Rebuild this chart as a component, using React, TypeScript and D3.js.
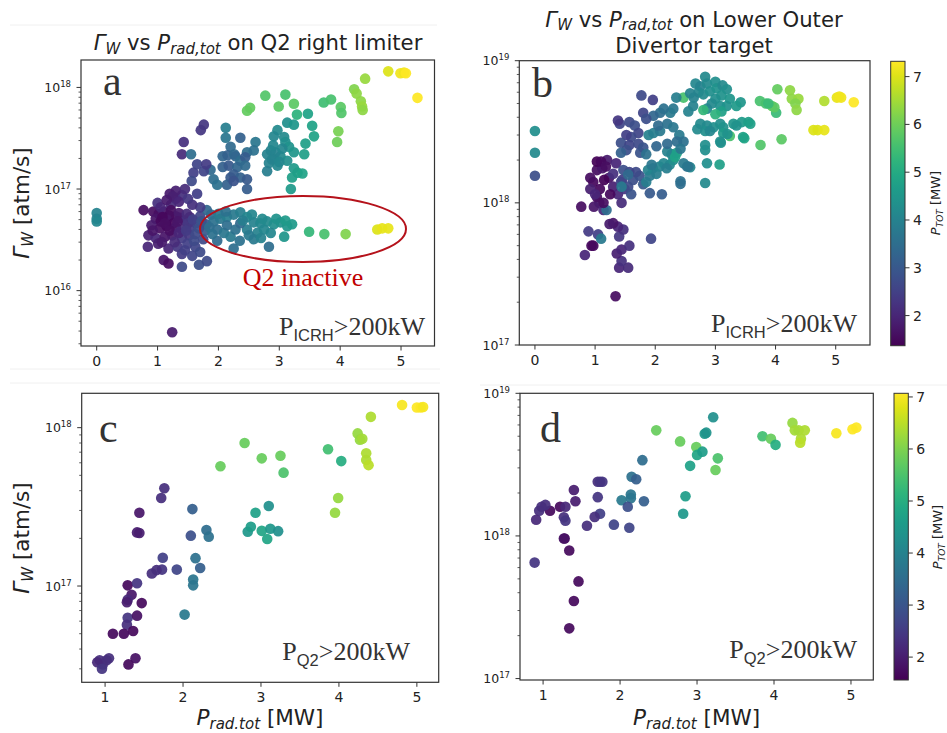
import React from "react";
import * as d3 from "d3";

// ---------------- DATA ----------------
// Panel a: Gamma_W on Q2 right limiter, P_ICRH > 200 kW
const aX = [4.79,4.99,5.05,5.08,5.27,4.41,4.23,4.27,4.34,4.36,4.37,4.01,4.02,3.97,3.95,3.73,3.85,2.77,3.10,3.24,2.99,2.47,2.52,3.29,3.47,3.54,3.57,3.43,3.41,3.13,3.24,2.97,2.91,3.08,3.10,3.16,3.24,2.86,2.80,2.91,3.02,3.13,2.83,2.80,2.97,3.24,3.30,3.38,3.21,3.19,2.61,2.58,2.47,2.12,2.12,2.36,2.20,2.07,2.15,2.26,2.28,2.36,2.44,2.07,2.17,2.31,2.44,2.25,2.36,2.47,2.47,2.20,2.14,2.25,1.92,1.98,1.87,1.76,1.59,1.56,1.76,1.71,1.43,1.40,1.55,1.65,1.80,
0.77,0.93,1.02,1.10,1.19,1.30,0.97,1.05,1.15,1.26,1.37,1.45,1.53,0.90,1.04,1.15,1.30,1.40,1.55,1.63,0.85,0.97,1.12,1.24,1.40,1.52,1.62,0.84,1.01,1.18,1.33,1.49,1.62,1.75,1.10,1.18,1.40,1.68,1.81,1.57,1.40,1.78,1.80,1.70,1.81,1.70,1.57,1.30,1.22,1.40,1.30,1.45,1.20,1.00,1.05,1.88,1.65,1.24,0,0,0,
1.92,2.03,2.14,2.25,2.36,2.47,2.58,2.69,2.80,2.91,3.02,3.13,3.21,1.98,2.09,2.20,2.28,2.47,2.64,2.75,2.86,3.08,2.58,2.25,2.83,3.49,3.74,4.09,4.61,4.69,4.79,2.36,2.14,1.98,2.94,3.05,2.88,3.00,2.90,
1.08,1.22,1.35,1.48,1.12,1.33,1.50,1.58,0.92,1.20,1.35,1.47,1.68,1.72,1.60,1.28,1.07,1.45,1.70,1.25,1.35,1.15,1.50,1.85,1.90,2.00,2.12,2.40,2.55,2.72,2.95,3.10,2.50,2.35,2.70];
const aY = [1.44e18,1.38e18,1.40e18,1.38e18,7.9e17,1.22e18,9.6e17,8.7e17,7.3e17,6.5e17,6.0e17,6.4e17,5.6e17,3.7e17,2.9e17,7.1e17,7.6e17,8.3e17,8.5e17,6.9e17,6.5e17,5.9e17,6.3e17,5.4e17,5.5e17,4.2e17,3.3e17,2.8e17,2.2e17,4.5e17,4.3e17,3.8e17,3.3e17,3.25e17,2.9e17,2.6e17,2.3e17,2.4e17,2.2e17,2.0e17,2.1e17,1.9e17,1.8e17,1.5e17,1.7e17,1.6e17,1.45e17,1.42e17,1.3e17,1.0e17,2.9e17,2.4e17,2.3e17,4.0e17,3.2e17,3.2e17,2.6e17,2.1e17,2.15e17,2.2e17,2.1e17,1.9e17,2.05e17,1.65e17,1.7e17,1.65e17,1.7e17,1.4e17,1.3e17,1.25e17,1.0e17,1.3e17,1.1e17,1.2e17,1.25e17,1.1e17,1.55e17,1.5e17,1.45e17,1.2e17,4.3e17,3.8e17,2.9e17,2.2e17,2.2e17,1.75e17,1.75e17,
6.2e16,6.0e16,5.7e16,6.0e16,5.5e16,5.4e16,5.1e16,4.8e16,5.0e16,4.6e16,5.2e16,4.9e16,5.3e16,4.4e16,4.1e16,4.3e16,4.2e16,4.0e16,4.2e16,4.6e16,3.5e16,3.3e16,3.4e16,3.5e16,3.3e16,3.5e16,3.6e16,2.7e16,2.9e16,2.6e16,2.7e16,2.9e16,2.7e16,3.2e16,2.0e16,1.85e16,1.72e16,1.8e16,1.95e16,2.2e16,2.3e16,3.9e16,4.5e16,5.4e16,6.2e16,6.6e16,7.0e16,8.0e16,7.0e16,8.7e16,9.6e16,1.0e17,9.0e16,7.3e16,6.6e16,5.6e16,9.0e16,3.9e15,5.8e16,5.1e16,4.8e16,
4.8e16,5.1e16,5.3e16,5.6e16,5.9e16,5.3e16,4.7e16,4.6e16,4.8e16,4.5e16,4.7e16,4.3e16,4.5e16,4.0e16,3.7e16,3.4e16,4.0e16,4.0e16,3.7e16,4.0e16,3.7e16,3.4e16,3.2e16,2.6e16,2.7e16,3.8e16,3.6e16,3.6e16,4.0e16,4.1e16,4.1e16,4.6e16,4.4e16,3.1e16,2.3e17,2.5e17,1.95e17,1.85e17,2.7e17,
5.3e16,6.2e16,5.8e16,5.7e16,4.6e16,4.8e16,4.6e16,5.0e16,3.9e16,3.9e16,3.7e16,3.9e16,4.1e16,4.8e16,3.1e16,3.0e16,3.0e16,2.5e16,2.4e16,8.5e16,7.5e16,7.8e16,8.0e16,4.2e16,3.6e16,5.7e16,6.0e16,4.9e16,5.6e16,5.1e16,5.1e16,4.9e16,3.5e16,3.1e16,3.3e16];
const aP = [7.0,7.2,7.2,7.3,7.3,6.4,6.2,6.3,6.3,6.4,6.3,5.8,5.7,6.1,6.0,5.5,5.6,5.7,5.6,5.8,5.8,5.9,5.9,5.2,4.8,4.8,4.8,4.7,4.7,4.3,4.5,4.2,4.1,4.2,4.3,4.4,4.5,4.0,4.0,4.1,4.2,4.3,4.0,3.9,4.1,4.6,4.7,4.8,4.7,4.6,3.7,3.6,3.5,3.9,3.7,3.2,3.4,3.3,3.2,3.4,3.3,3.5,3.1,3.2,3.0,3.3,3.4,3.1,3.2,3.0,3.1,3.0,3.2,2.9,3.5,3.6,3.4,2.6,2.5,2.7,2.3,2.3,2.2,2.1,3.5,2.6,2.4,
1.6,1.6,1.6,1.7,1.5,1.6,1.7,1.5,1.7,1.5,1.9,2.2,2.0,1.8,1.6,1.5,1.7,2.1,2.4,2.6,1.9,2.0,1.7,1.8,2.4,2.3,2.7,2.0,1.9,2.0,2.3,2.5,2.6,2.7,1.7,1.6,2.7,2.8,2.7,2.6,2.4,3.0,2.9,2.6,3.3,2.4,2.2,2.0,2.1,2.2,1.9,2.1,1.8,2.2,2.0,3.4,2.5,1.8,4.0,4.0,4.1,
3.6,3.7,3.9,3.8,3.9,4.1,4.0,4.1,4.2,4.3,4.4,4.5,4.6,3.5,3.7,3.8,3.6,3.9,4.0,4.1,4.1,4.5,3.8,3.5,3.5,5.3,5.6,6.2,7.0,7.1,7.1,3.4,3.5,3.4,4.0,4.1,4.0,4.1,4.1,
1.5,1.6,1.8,2.1,1.6,1.7,2.3,2.5,1.7,1.6,2.0,2.4,2.8,2.9,2.7,2.1,1.8,2.5,2.7,1.9,2.0,1.8,2.3,3.5,3.6,3.8,3.6,3.9,4.1,4.2,4.4,4.6,3.8,3.6,4.0];

// Panel b: Gamma_W on lower outer divertor target, P_ICRH > 200 kW
const bX = [5.30,5.02,5.06,5.09,4.81,4.63,4.70,4.81,4.24,4.27,4.38,4.33,4.35,4.03,4.01,3.94,3.98,3.74,3.84,4.10,3.75,3.48,3.24,3.07,2.83,2.86,2.83,2.83,3.09,
2.83,2.67,2.75,2.86,2.72,2.64,2.80,2.91,3.00,3.02,3.12,3.19,3.10,3.24,3.00,2.94,2.86,3.08,3.19,3.42,3.35,3.10,2.80,3.00,2.63,3.88,2.47,2.35,2.58,2.55,2.30,
2.75,2.86,2.97,2.83,2.91,3.08,3.13,3.30,3.44,3.55,3.58,3.35,3.13,3.20,3.08,3.46,2.58,2.70,
1.34,1.40,1.55,1.44,1.36,1.44,1.57,1.40,1.47,1.38,1.30,1.24,0.94,0.97,0.83,0.89,1.05,1.10,1.93,0.77,
0.98,1.07,1.14,1.19,1.03,1.08,0.97,0.92,1.03,1.12,1.20,1.03,1.10,1.18,1.23,1.30,1.38,1.44,1.30,1.45,1.49,0.92,1.15,1.25,1.35,1.14,1.00,
1.43,1.55,1.63,1.74,1.68,1.57,1.47,1.44,1.60,1.80,1.85,1.91,1.88,1.96,2.02,2.07,1.94,1.91,2.11,2.42,2.42,2.53,2.24,2.30,2.27,2.20,2.14,2.19,2.33,2.36,2.47,
1.41,1.57,1.66,1.72,1.60,1.52,1.43,1.57,1.72,1.80,1.52,1.43,1.75,1.85,1.89,1.97,2.08,2.08,2.25,1.80,2.14,1.97,1.77,1.96,1.85,1.38,2.05,2.20,2.30,2.40,2.47,2.36,2.20,2.02,2.42,2.55,0,0,0,1.55];
const bY = [5.1e18,5.5e18,5.6e18,5.5e18,5.2e18,3.25e18,3.25e18,3.25e18,6.2e18,5.4e18,5.4e18,5.0e18,4.5e18,6.3e18,4.3e18,4.8e18,4.7e18,5.2e18,5.0e18,2.8e18,2.55e18,2.85e18,2.95e18,1.86e18,1.38e18,1.9e18,2.55e18,2.35e18,2.65e18,
7.7e18,6.9e18,6.6e18,6.9e18,6.0e18,5.5e18,5.8e18,6.1e18,7.1e18,6.4e18,6.7e18,6.3e18,5.7e18,5.4e18,5.4e18,5.0e18,4.6e18,4.8e18,4.8e18,5.1e18,4.8e18,4.4e18,4.5e18,4.2e18,4.8e18,5.0e18,5.5e18,5.5e18,5.9e18,4.4e18,4.6e18,
3.6e18,3.5e18,3.4e18,3.2e18,3.2e18,3.6e18,3.4e18,3.6e18,3.7e18,3.7e18,3.6e18,3.5e18,3.1e18,3.05e18,2.7e18,2.9e18,1.78e18,3.3e18,
2.2e17,3.5e17,3.5e17,3.9e17,4.4e17,4.7e17,5.0e17,5.8e17,6.5e17,6.8e17,7.2e17,7.1e17,5.0e17,5.0e17,4.3e17,6.3e17,6.0e17,5.6e17,5.6e17,9.4e17,
9.4e17,1.0e18,8.9e17,8.9e17,1.1e18,1.25e18,1.4e18,1.25e18,1.7e18,1.75e18,2.0e18,1.95e18,1.95e18,1.8e18,1.5e18,1.3e18,1.15e18,1.0e18,1.6e18,1.45e18,1.25e18,1.5e18,1.45e18,1.15e18,1.9e18,1.0e18,1.15e18,
1.4e18,1.3e18,1.45e18,1.55e18,1.65e18,1.65e18,1.7e18,1.3e18,1.15e18,1.35e18,1.4e18,1.55e18,1.7e18,1.75e18,1.6e18,1.8e18,1.85e18,1.17e18,1.15e18,1.42e18,1.36e18,1.8e18,1.85e18,2.0e18,2.2e18,2.3e18,1.9e18,1.75e18,2.1e18,2.25e18,1.9e18,
3.6e18,3.7e18,3.5e18,3.1e18,2.9e18,3.0e18,2.65e18,2.55e18,2.6e18,2.45e18,2.35e18,2.25e18,2.25e18,2.2e18,3.0e18,3.1e18,3.2e18,4.3e18,4.3e18,4.3e18,4.6e18,4.1e18,5.7e18,5.3e18,3.9e18,3.8e18,3.5e18,3.6e18,3.4e18,3.0e18,2.7e18,2.7e18,2.6e18,2.5e18,2.4e18,1.8e18,3.2e18,2.25e18,1.55e18,1.58e18];
const bP = [7.3,7.1,7.2,7.2,6.6,7.0,7.0,7.1,6.3,6.3,6.4,6.2,6.3,5.9,5.4,5.9,5.8,5.6,5.6,5.8,5.7,4.9,5.6,4.7,4.2,4.3,4.3,4.3,4.4,
4.2,4.1,4.0,4.2,4.1,4.0,4.2,4.3,4.3,4.4,4.2,4.3,4.4,4.5,4.3,4.2,4.1,4.3,4.4,4.5,4.6,4.7,5.3,5.2,4.0,5.4,5.6,3.9,4.0,4.0,3.7,
4.2,4.2,4.3,4.3,4.1,4.3,4.4,4.5,4.6,4.7,4.7,4.4,4.6,4.4,4.3,4.8,4.1,4.2,
1.6,2.0,2.1,2.2,1.9,2.0,2.2,2.3,2.2,2.0,1.7,1.8,1.5,1.5,2.0,2.4,2.5,3.8,2.6,1.6,
1.7,1.8,2.0,3.5,1.6,1.5,1.5,1.9,1.6,1.7,1.8,1.4,1.5,1.6,1.7,1.9,2.0,2.1,2.2,2.4,2.3,1.6,1.4,1.5,2.0,1.6,2.0,
2.6,2.7,2.8,2.9,2.7,2.6,2.8,3.8,2.9,3.0,3.9,3.8,4.0,4.1,3.9,4.0,3.7,3.0,3.1,3.6,3.5,3.5,4.1,4.3,4.2,4.0,4.1,3.9,4.8,4.7,3.8,
2.6,2.7,2.8,2.6,2.7,2.5,2.8,2.6,2.7,2.9,2.8,3.2,2.9,3.6,4.0,3.9,3.8,3.5,3.8,2.6,3.6,3.3,2.7,2.5,2.8,2.3,3.4,3.6,3.7,3.8,3.6,3.5,3.4,3.3,3.7,3.7,4.3,4.2,2.8,3.4];

// Panel c: Q2 right limiter, P_Q2 > 200 kW
const cX = [4.81,5.00,5.05,5.08,4.41,4.24,4.27,4.30,2.79,3.86,4.35,3.01,3.25,4.03,4.35,4.38,2.48,3.29,1.76,1.72,3.99,1.44,3.95,2.12,2.93,3.10,1.41,1.44,2.10,2.30,2.33,2.83,2.87,3.01,3.12,3.22,3.08,1.74,1.73,1.66,1.60,1.92,2.16,2.22,2.13,2.13,1.29,1.41,1.34,1.29,1.28,1.47,2.02,1.29,1.28,1.41,1.10,1.24,1.36,0.93,0.97,1.02,0.90,0.96,1.05,1.39,1.30];
const cY = [1.39e18,1.34e18,1.34e18,1.35e18,1.17e18,9.2e17,8.4e17,8.5e17,8.0e17,7.3e17,6.9e17,6.4e17,6.65e17,6.15e17,6.25e17,5.8e17,5.7e17,5.2e17,4.14e17,3.6e17,3.6e17,2.9e17,2.9e17,3.06e17,2.9e17,3.2e17,2.18e17,2.16e17,2.08e17,2.26e17,2.05e17,2.2e17,2.37e17,2.23e17,2.3e17,2.22e17,1.98e17,1.51e17,1.27e17,1.26e17,1.2e17,1.27e17,1.5e17,1.3e17,1.1e17,1.01e17,1.01e17,1.04e17,8.8e16,8.2e16,7.9e16,7.8e16,6.6e16,6.3e16,5.7e16,6.5e16,5.0e16,5.0e16,5.2e16,3.4e16,3.2e16,3.4e16,3.3e16,3.0e16,3.5e16,3.5e16,3.2e16];
const cP = [7.0,7.1,7.1,7.0,6.4,6.2,6.2,6.3,5.8,5.4,6.4,5.8,5.8,5.0,6.4,6.5,5.8,5.5,2.3,2.3,6.2,1.9,6.2,3.2,4.7,4.3,2.0,2.0,2.9,3.5,3.6,4.5,4.6,4.8,4.5,4.3,4.8,2.6,2.4,2.3,2.3,2.7,3.6,3.2,3.7,3.7,1.7,2.4,1.9,2.2,2.0,1.7,3.8,2.4,2.3,1.8,1.7,1.7,1.7,2.3,2.3,2.3,2.2,2.4,2.3,1.8,1.7];

// Panel d: lower outer divertor target, P_Q2 > 200 kW
const dX = [4.81,5.02,5.07,4.24,4.27,4.32,4.40,4.35,4.34,3.85,3.96,4.02,3.21,3.10,3.12,2.47,2.78,2.99,3.00,3.07,3.27,2.91,3.24,2.29,2.15,2.21,1.71,1.74,1.77,1.40,2.02,2.14,2.14,2.31,2.85,2.10,2.12,1.92,2.82,1.71,1.42,1.74,1.67,1.57,1.22,1.29,1.09,0.98,1.03,0.95,0.91,1.27,1.29,1.28,1.27,1.34,0.89,1.46,1.40,1.34];
const dY = [5.25e18,5.6e18,5.75e18,6.2e18,5.5e18,5.5e18,5.5e18,4.8e18,4.5e18,5.0e18,4.8e18,4.35e18,6.8e18,5.2e18,5.3e18,5.5e18,4.6e18,4.2e18,3.7e18,3.9e18,3.5e18,3.1e18,2.9e18,3.4e18,2.6e18,2.5e18,2.4e18,2.4e18,2.4e18,2.1e18,1.78e18,1.95e18,1.84e18,1.75e18,1.9e18,1.6e18,1.14e18,1.2e18,1.43e18,1.87e18,1.75e18,1.43e18,1.36e18,1.18e18,1.6e18,1.6e18,1.5e18,1.6e18,1.65e18,1.5e18,1.3e18,1.35e18,1.28e18,9.6e17,9.6e17,7.9e17,6.5e17,4.8e17,3.5e17,2.25e17];
const dP = [7.0,7.1,7.1,6.2,6.3,6.3,6.4,6.4,6.5,5.4,5.8,5.0,4.3,4.5,4.4,5.8,5.8,5.8,4.8,4.6,5.5,4.7,5.8,3.5,3.6,3.2,2.3,2.4,2.4,2.0,3.8,3.7,3.7,3.2,4.6,2.9,2.7,2.7,4.5,2.4,2.0,2.6,2.3,2.3,1.7,2.2,1.7,2.3,2.3,2.3,2.2,2.3,2.4,1.7,1.8,1.7,2.4,1.7,1.7,1.7];

// ticks
const xTicksTop = [0, 1, 2, 3, 4, 5];
const xTicksBottom = [1, 2, 3, 4, 5];
const yExpA = [16, 17, 18];
const yExpB = [17, 18, 19];
const yExpC = [17, 18];
const yExpD = [17, 18, 19];
const cbTicks = [2, 3, 4, 5, 6, 7];

// ---------------- COMPONENTS ----------------
const SANS = "'DejaVu Sans', sans-serif";
const SERIF = "'Liberation Serif', 'Times New Roman', serif";
const ARIAL = "'Liberation Sans', Arial, sans-serif";
const AX = "#333";

type Box = { l: number; t: number; r: number; b: number };

function Panel(props: {
  id: string; box: Box; xDomain: [number, number]; yDomain: [number, number];
  xTicks: number[]; yExps: number[]; xs: number[]; ys: number[]; ps: number[];
  cDomain: [number, number];
}) {
  const { id, box, xDomain, yDomain, xTicks, yExps, xs, ys, ps, cDomain } = props;
  const { l, t, r, b } = box;
  const x = d3.scaleLinear().domain(xDomain).range([l, r]);
  const y = d3.scaleLog().domain(yDomain).range([b, t]);
  const color = d3.scaleSequential(d3.interpolateViridis).domain(cDomain);
  const minor: number[] = [];
  const e0 = Math.floor(Math.log10(yDomain[0]));
  const e1 = Math.ceil(Math.log10(yDomain[1]));
  for (let e = e0; e <= e1; e++) {
    for (let m = 2; m <= 9; m++) {
      const v = m * Math.pow(10, e);
      if (v >= yDomain[0] && v <= yDomain[1]) minor.push(v);
    }
  }
  return (
    <g>
      <defs>
        <clipPath id={id}>
          <rect x={l} y={t} width={r - l} height={b - t} />
        </clipPath>
      </defs>
      <g clipPath={`url(#${id})`}>
        {xs.map((xv, i) => (
          <circle key={i} cx={x(xv)} cy={y(ys[i])} r={5.3} fill={color(ps[i])} fillOpacity={0.93} />
        ))}
      </g>
      <rect x={l} y={t} width={r - l} height={b - t} fill="none" stroke={AX} strokeWidth={1.2} />
      {xTicks.map((v) => (
        <g key={"x" + v}>
          <line x1={x(v)} x2={x(v)} y1={b} y2={b + 4.5} stroke={AX} />
          <text x={x(v)} y={b + 19.5} textAnchor="middle" fontSize={14} fill="#222">{v}</text>
        </g>
      ))}
      {minor.map((v, i) => (
        <line key={"m" + i} x1={l - 2.5} x2={l} y1={y(v)} y2={y(v)} stroke={AX} strokeWidth={0.8} />
      ))}
      {yExps.map((e) => {
        const v = Math.pow(10, e);
        return (
          <g key={"y" + e}>
            <line x1={l - 4.5} x2={l} y1={y(v)} y2={y(v)} stroke={AX} />
            <text x={l - 10} y={y(v) + 4.5} textAnchor="end" fontSize={12.5} fill="#222">
              10<tspan dy={-5} fontSize={8.5}>{e}</tspan>
            </text>
          </g>
        );
      })}
    </g>
  );
}

function Colorbar(props: { id: string; box: Box; domain: [number, number]; ticks: number[] }) {
  const { id, box, domain, ticks } = props;
  const { l, t, r, b } = box;
  const s = d3.scaleLinear().domain(domain).range([b, t]);
  const stops = d3.range(0, 1.0001, 0.05);
  return (
    <g>
      <defs>
        <linearGradient id={id} x1="0" y1="1" x2="0" y2="0">
          {stops.map((f) => (
            <stop key={f} offset={f} stopColor={d3.interpolateViridis(f)} />
          ))}
        </linearGradient>
      </defs>
      <rect x={l} y={t} width={r - l} height={b - t} fill={`url(#${id})`} stroke={AX} strokeWidth={1} />
      {ticks.map((v) => (
        <g key={v}>
          <line x1={r} x2={r + 4.5} y1={s(v)} y2={s(v)} stroke={AX} />
          <text x={r + 8} y={s(v) + 5} fontSize={14} fill="#222">{v}</text>
        </g>
      ))}
    </g>
  );
}

function CbLabel({ x, y }: { x: number; y: number }) {
  return (
    <text transform={`translate(${x},${y}) rotate(-90)`} textAnchor="middle" fontSize={13} fill="#222" style={{ whiteSpace: "pre" }}>
      <tspan fontStyle="italic">P</tspan>
      <tspan fontStyle="italic" fontSize={9} dy={3}>TOT</tspan>
      <tspan dy={-3}>{" [MW]"}</tspan>
    </text>
  );
}

function YLabel({ x, y }: { x: number; y: number }) {
  return (
    <text transform={`translate(${x},${y}) rotate(-90)`} textAnchor="middle" fontSize={21.5} fill="#222" style={{ whiteSpace: "pre" }}>
      <tspan fontStyle="italic">Γ</tspan>
      <tspan fontStyle="italic" fontSize={15} dy={4}>W</tspan>
      <tspan dy={-4}>{" [atm/s]"}</tspan>
    </text>
  );
}

function XLabel({ x, y }: { x: number; y: number }) {
  return (
    <text x={x} y={y} textAnchor="middle" fontSize={21.5} fill="#222" style={{ whiteSpace: "pre" }}>
      <tspan fontStyle="italic">P</tspan>
      <tspan fontStyle="italic" fontSize={15} dy={4}>rad.tot</tspan>
      <tspan dy={-4}>{" [MW]"}</tspan>
    </text>
  );
}

function TitleHead() {
  return (
    <>
      <tspan fontStyle="italic">Γ</tspan>
      <tspan fontStyle="italic" fontSize={15} dy={3.5}>W</tspan>
      <tspan dy={-3.5}>{" vs "}</tspan>
      <tspan fontStyle="italic">P</tspan>
      <tspan fontStyle="italic" fontSize={15} dy={3.5}>rad,tot</tspan>
    </>
  );
}

function Cond({ x, y, sub }: { x: number; y: number; sub: string }) {
  return (
    <text x={x} y={y} textAnchor="end" fontFamily={SERIF} fontSize={26} fill="#333" style={{ whiteSpace: "pre" }}>
      P<tspan fontFamily={ARIAL} fontSize={16.5} dy={6}>{sub}</tspan>
      <tspan dy={-6}>{">200kW"}</tspan>
    </text>
  );
}

export default function App() {
  const boxA: Box = { l: 81, t: 60, r: 434.5, b: 346 };
  const boxB: Box = { l: 519.3, t: 60.7, r: 870, b: 345 };
  const boxC: Box = { l: 81.7, t: 393.3, r: 438.7, b: 682.3 };
  const boxD: Box = { l: 520, t: 393.3, r: 873.3, b: 680 };
  const cdAB: [number, number] = [1.37, 7.32];
  const cdCD: [number, number] = [1.56, 7.07];
  return (
    <svg width={947} height={733} viewBox="0 0 947 733" fontFamily={SANS}
      style={{ position: "absolute", left: 0, top: 0, background: "#fff" }}>
      <rect x={0} y={0} width={947} height={733} fill="#fff" />
      {/* faint separators from the composite image */}
      <line x1={10} x2={437} y1={25} y2={25} stroke="#f0f0f0" />
      <line x1={10} x2={440} y1={369} y2={369} stroke="#f0f0f0" />
      <line x1={10} x2={440} y1={383} y2={383} stroke="#f0f0f0" />
      <line x1={480} x2={947} y1={385} y2={385} stroke="#f0f0f0" />

      <Panel id="ca" box={boxA} xDomain={[-0.258, 5.55]} yDomain={[Math.pow(10, 15.455), Math.pow(10, 18.27)]}
        xTicks={xTicksTop} yExps={yExpA} xs={aX} ys={aY} ps={aP} cDomain={cdAB} />
      <Panel id="cb" box={boxB} xDomain={[-0.26, 5.57]} yDomain={[1e17, 1e19]}
        xTicks={xTicksTop} yExps={yExpB} xs={bX} ys={bY} ps={bP} cDomain={cdAB} />
      <Panel id="cc" box={boxC} xDomain={[0.70, 5.28]} yDomain={[Math.pow(10, 16.392), Math.pow(10, 18.217)]}
        xTicks={xTicksBottom} yExps={yExpC} xs={cX} ys={cY} ps={cP} cDomain={cdCD} />
      <Panel id="cd" box={boxD} xDomain={[0.70, 5.29]} yDomain={[Math.pow(10, 16.99), 1e19]}
        xTicks={xTicksBottom} yExps={yExpD} xs={dX} ys={dY} ps={dP} cDomain={cdCD} />

      <Colorbar id="gb" box={{ l: 890.7, t: 61.3, r: 905, b: 345.7 }} domain={cdAB} ticks={cbTicks} />
      <Colorbar id="gd" box={{ l: 894, t: 393.3, r: 908.3, b: 680 }} domain={cdCD} ticks={cbTicks} />
      <CbLabel x={940} y={203} />
      <CbLabel x={942} y={537} />

      {/* titles */}
      <text x={258} y={50} textAnchor="middle" fontSize={21.2} fill="#222" style={{ whiteSpace: "pre" }}>
        <TitleHead />
        <tspan dy={-3.5}>{" on Q2 right limiter"}</tspan>
      </text>
      <text x={694} y={26.7} textAnchor="middle" fontSize={21.2} fill="#222" style={{ whiteSpace: "pre" }}>
        <TitleHead />
        <tspan dy={-3.5}>{" on Lower Outer"}</tspan>
      </text>
      <text x={694} y={53.3} textAnchor="middle" fontSize={21.2} fill="#222">Divertor target</text>

      <YLabel x={29} y={203} />
      <YLabel x={29} y={538} />
      <XLabel x={260} y={725} />
      <XLabel x={696.6} y={725} />

      {/* panel letters */}
      <text x={103} y={95} fontFamily={SERIF} fontSize={42} fill="#333">a</text>
      <text x={532} y={97} fontFamily={SERIF} fontSize={42} fill="#333">b</text>
      <text x={99} y={442} fontFamily={SERIF} fontSize={42} fill="#333">c</text>
      <text x={540} y={442} fontFamily={SERIF} fontSize={42} fill="#333">d</text>

      <Cond x={425} y={335} sub="ICRH" />
      <Cond x={857} y={331.7} sub="ICRH" />
      <Cond x={410} y={660} sub="Q2" />
      <Cond x={857} y={658.3} sub="Q2" />

      {/* Q2 inactive annotation */}
      <ellipse cx={303} cy={229} rx={103} ry={33} fill="none" stroke="#b5121b" strokeWidth={2} />
      <text x={303} y={286} textAnchor="middle" fontFamily={SERIF} fontSize={26} fill="#c00000">Q2 inactive</text>
    </svg>
  );
}
